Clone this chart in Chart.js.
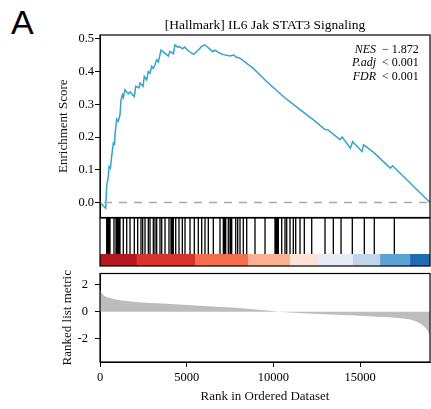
<!DOCTYPE html>
<html>
<head>
<meta charset="utf-8">
<script src="https://cdn.jsdelivr.net/npm/chart.js"></script>
<style>
  html, body { margin: 0; padding: 0; background: #fff; }
  #wrap { position: relative; width: 431px; height: 409px; overflow: hidden; }
  #wrap canvas { position: absolute; left: 0; }
  #panelA { position: absolute; left: 11px; top: 3px; font-family: "Liberation Sans", Arial, sans-serif; font-size: 34px; color: #000; }
</style>
</head>
<body>
<div id="wrap">
  <div id="panelA">A</div>
  <canvas id="esChart" style="top:0px"></canvas>
  <canvas id="hitChart" style="top:210px"></canvas>
  <canvas id="rankChart" style="top:259px"></canvas>
</div>
<script>
// gene set size / x range
const nGenes = 19030;

// running enrichment score, [rank, ES]
const esRank = [0, 330, 386, 480, 520, 600, 672, 770, 840, 865, 963, 1055, 1153, 1211, 1288, 1345, 1442, 1633, 1730, 1980,
  2057, 2250, 2307, 2480, 2555, 2690, 2785, 2880, 2980, 3075, 3172, 3270, 3365, 3518, 3749, 3940, 4030, 4230, 4325, 4480,
  4610, 4750, 4880, 5110, 5400, 5690, 5865, 6055, 6500, 6630, 6920, 7110, 7500, 7690, 7880, 8070, 8840, 9610, 10570, 11534,
  12290, 12976, 13150, 13840, 13960, 14440, 14570, 15110, 15200, 15780, 16740, 16870, 19030];
const esValue = [0, -0.018, 0.05, 0.08, 0.11, 0.105, 0.141, 0.182, 0.178, 0.207, 0.255, 0.248, 0.268, 0.314, 0.329, 0.32, 0.345, 0.332, 0.338, 0.324,
  0.355, 0.35, 0.365, 0.355, 0.385, 0.375, 0.40, 0.395, 0.416, 0.41, 0.421, 0.436, 0.43, 0.466, 0.456, 0.448, 0.462, 0.455, 0.482, 0.475,
  0.476, 0.470, 0.475, 0.463, 0.453, 0.467, 0.477, 0.482, 0.461, 0.466, 0.456, 0.452, 0.448, 0.451, 0.444, 0.441, 0.41, 0.370, 0.324, 0.284,
  0.253, 0.223, 0.222, 0.192, 0.20, 0.166, 0.186, 0.156, 0.176, 0.153, 0.105, 0.112, 0.0];

// positions of the gene set members in the ranked list
const hitRanks = [386, 430, 479, 530, 577, 807, 923, 980, 1055, 1100, 1153, 1344, 1540, 1730, 1978, 2174, 2364, 2462, 2595, 2785,
  2884, 3074, 3172, 3270, 3460, 3560, 3749, 3979, 4095, 4160, 4227, 4366, 4556, 4746, 4902, 5190, 5438, 5669, 5865, 6055,
  6246, 6534, 6920, 7111, 7180, 7249, 7399, 7497, 7540, 7595, 7826, 7941, 8074, 8264, 8460, 8939, 9516, 10092, 10140, 10190,
  10240, 10283, 10479, 10669, 10767, 10957, 11147, 11286, 11534, 11782, 12209, 12976, 13455, 13899, 14550, 15242, 15818, 16972];

// colour strip blocks (rank boundaries) and their colours
const stripEdges = [0, 2130, 5480, 8535, 10960, 12515, 14590, 16150, 17880, 19030];
const stripColors = ['#b5161f', '#d8332a', '#f36e4c', '#fbb091', '#fde2d5', '#e7ebf5', '#bfd6eb', '#5da2d5', '#1e6db6'];

// ranked list metric, [rank, value]
const metricRank = [0, 100, 190, 580, 1920, 3850, 5770, 7690, 9000, 10300, 12000, 14000, 15500, 17300, 18070, 18550, 18840, 19030];
const metricValue = [1.65, 1.4, 1.24, 1.01, 0.74, 0.6, 0.45, 0.31, 0.16, 0.0, -0.13, -0.24, -0.33, -0.48, -0.64, -0.94, -1.29, -1.75];

// tick labels
const esTicks = [0, 0.1, 0.2, 0.3, 0.4, 0.5];
const rankTicks = [0, 5000, 10000, 15000];
const metricTicks = [-2, 0, 2];

const serif = '"Liberation Serif", "Times New Roman", serif';
Chart.defaults.font.family = serif;
Chart.defaults.color = '#000';

function setup(id, h) {
  const c = document.getElementById(id);
  c.width = 431; c.height = h;
  c.style.width = '431px'; c.style.height = h + 'px';
  return c;
}

// black box round each panel
const frame = {
  id: 'frame',
  afterDraw(chart) {
    const a = chart.chartArea, ctx = chart.ctx;
    ctx.save();
    ctx.strokeStyle = '#000';
    ctx.lineWidth = 1.2;
    ctx.strokeRect(a.left, a.top, a.right - a.left, a.bottom - a.top);
    ctx.restore();
  }
};

// title over the plot area + NES / p values in the corner
const stats = {
  id: 'stats',
  afterDraw(chart) {
    const ctx = chart.ctx, a = chart.chartArea;
    const rows = [['NES', '\u2212 1.872'], ['P.adj', '< 0.001'], ['FDR', '< 0.001']];
    ctx.save();
    ctx.fillStyle = '#000';
    ctx.textBaseline = 'middle';
    ctx.textAlign = 'center';
    ctx.font = '13.5px ' + serif;
    ctx.fillText('[Hallmark] IL6 Jak STAT3 Signaling', (a.left + a.right) / 2, 25);
    rows.forEach((r, i) => {
      const y = 49.5 + i * 13.7;
      ctx.font = 'italic 12px ' + serif;
      ctx.textAlign = 'right';
      ctx.fillText(r[0], 376, y);
      ctx.font = '12px ' + serif;
      ctx.textAlign = 'left';
      ctx.fillText(r[1], 382, y);
    });
    ctx.restore();
  }
};

function fixLeft(s) { s.width = 100; }

// --- enrichment score panel
new Chart(setup('esChart', 226), {
  type: 'line',
  data: {
    datasets: [
      {
        data: [{x: 0, y: 0}, {x: nGenes, y: 0}],
        borderColor: '#a8a8a8', borderWidth: 1.5, borderDash: [8, 7], borderDashOffset: -4,
        pointRadius: 0
      },
      {
        data: esRank.map((r, i) => ({x: r, y: esValue[i]})),
        borderColor: '#33a5c9', borderWidth: 1.5, pointRadius: 0, tension: 0
      }
    ]
  },
  options: {
    responsive: false, animation: false,
    layout: { padding: { left: 0, right: 1, top: 35, bottom: 8 } },
    plugins: { legend: { display: false }, tooltip: { enabled: false } },
    scales: {
      x: { type: 'linear', min: 0, max: nGenes, display: false },
      y: {
        min: -0.046, max: 0.512,
        afterFit: fixLeft,
        afterBuildTicks: s => { s.ticks = esTicks.map(v => ({value: v})); },
        ticks: { font: { size: 12.5 }, padding: 1, callback: v => v.toFixed(1) },
        grid: { drawOnChartArea: false, tickLength: 5, color: '#000' },
        border: { display: true, color: '#000' },
        title: { display: true, text: 'Enrichment Score', font: { size: 13 }, color: '#111', padding: { top: 56, bottom: 0 } }
      }
    }
  },
  plugins: [frame, stats]
});

// --- hits + colour strip panel
const stripSets = stripColors.map((col, i) => ({
  data: [{x: stripEdges[i], y: 0.25}, {x: stripEdges[i + 1], y: 0.25}],
  borderWidth: 0, pointRadius: 0, fill: 'origin', backgroundColor: col, borderColor: col
}));
const hitPts = [];
hitRanks.forEach(h => { hitPts.push({x: h, y: 0.25}, {x: h, y: 1}, {x: h, y: null}); });

new Chart(setup('hitChart', 66), {
  type: 'line',
  data: {
    datasets: stripSets.concat([{
      data: hitPts, borderColor: '#000', borderWidth: 1.3, pointRadius: 0, spanGaps: false
    }])
  },
  options: {
    responsive: false, animation: false,
    layout: { padding: { left: 100, right: 1, top: 8, bottom: 10 } },
    plugins: { legend: { display: false }, tooltip: { enabled: false } },
    scales: {
      x: { type: 'linear', min: 0, max: nGenes, display: false },
      y: { min: 0, max: 1, display: false }
    }
  },
  plugins: [frame]
});

// --- ranked list metric panel
new Chart(setup('rankChart', 150), {
  type: 'line',
  data: {
    datasets: [{
      data: metricRank.map((r, i) => ({x: r, y: metricValue[i]})),
      borderWidth: 0, borderColor: '#bdbdbd', backgroundColor: '#bdbdbd',
      fill: 'origin', pointRadius: 0, cubicInterpolationMode: 'monotone'
    }]
  },
  options: {
    responsive: false, animation: false,
    layout: { padding: { left: 0, right: 1, top: 8, bottom: 0 } },
    plugins: { legend: { display: false }, tooltip: { enabled: false } },
    scales: {
      x: {
        type: 'linear', min: 0, max: nGenes,
        afterFit: s => { s.height = 47; },
        afterBuildTicks: s => { s.ticks = rankTicks.map(v => ({value: v})); },
        ticks: { font: { size: 12.5 }, padding: 3, maxRotation: 0, callback: v => String(v) },
        grid: { drawOnChartArea: false, tickLength: 5, color: '#000' },
        border: { display: true, color: '#000' },
        title: { display: true, text: 'Rank in Ordered Dataset', font: { size: 13 }, color: '#111', padding: { top: 0, bottom: 5 } }
      },
      y: {
        min: -3.72, max: 2.83,
        afterFit: fixLeft,
        afterBuildTicks: s => { s.ticks = metricTicks.map(v => ({value: v})); },
        ticks: { font: { size: 12.5 }, padding: 7, callback: v => String(v) },
        grid: { drawOnChartArea: false, tickLength: 5, color: '#000' },
        border: { display: true, color: '#000' },
        title: { display: true, text: 'Ranked list metric', font: { size: 13 }, color: '#111', padding: { top: 60, bottom: 0 } }
      }
    }
  },
  plugins: [frame]
});
</script>
</body>
</html>
